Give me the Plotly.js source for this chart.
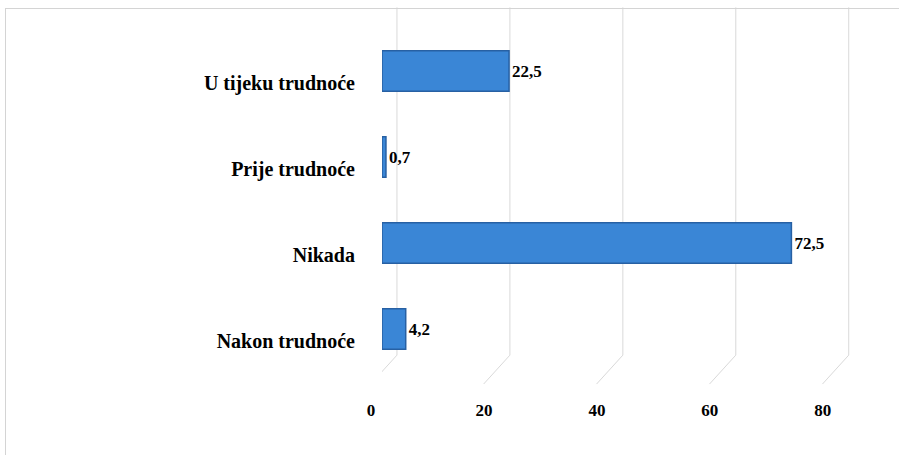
<!DOCTYPE html>
<html>
<head>
<meta charset="utf-8">
<script src="https://cdn.plot.ly/plotly-3.0.1.min.js"></script>
<style>
html,body{margin:0;padding:0;background:#fff;}
#wrap{position:relative;width:899px;height:455px;}
#chart{width:899px;height:455px;}
#frame{position:absolute;left:5px;top:8px;right:-2px;bottom:-2px;border:1px solid #d4d4d4;pointer-events:none;}
</style>
</head>
<body>
<div id="wrap"><div id="chart"></div><div id="frame"></div></div>
<script>
const categories = ["Nakon trudnoće", "Nikada", "Prije trudnoće", "U tijeku trudnoće"];
const values = [4.2, 72.5, 0.7, 22.5];
const tickValues = [0, 20, 40, 60, 80];
const tickLabels = ["0", "20", "40", "60", "80"];

const serif = "Liberation Serif";
const depth = 2.65;   // back-wall offset (axis units)
const front = -2;     // front floor edge offset (axis units)
const yBack = 0.049, yTop = 1.06, yFront = -0.035;

const shapes = [];
tickValues.forEach(v => {
  shapes.push({type:"line", xref:"x", yref:"paper", x0:v+depth, x1:v+depth, y0:yBack, y1:yTop,
               line:{color:"#d9d9d9", width:1}, layer:"below"});
  shapes.push({type:"line", xref:"x", yref:"paper", x0:v+front, x1:v+depth, y0:yFront, y1:yBack,
               line:{color:"#d9d9d9", width:1}, layer:"below"});
});
shapes.push({type:"line", xref:"x", yref:"paper", x0:front, x1:front, y0:yFront, y1:0.96,
             line:{color:"#e2e2e2", width:1}, layer:"below"});

const trace = {
  type: "bar",
  orientation: "h",
  y: categories,
  x: values,
  marker: {color: "#3a86d6", line: {color: "#2760a3", width: 1.5}},
  texttemplate: "%{x:.1f}",
  textposition: "outside",
  cliponaxis: false,
  textfont: {family: serif, size: 17, color: "#000", weight: "bold"},
  hoverinfo: "skip"
};

const layout = {
  width: 899, height: 455,
  margin: {l: 382, r: 37, t: 28, b: 83},
  paper_bgcolor: "rgba(0,0,0,0)",
  plot_bgcolor: "rgba(0,0,0,0)",
  separators: ", ",
  showlegend: false,
  bargap: 0.53,
  shapes: shapes,
  xaxis: {
    range: [0, 85], showgrid: false, zeroline: false, showline: false,
    tickvals: tickValues, ticktext: tickLabels, ticks: "",
    ticklabelshift: -11, ticklabelstandoff: 26,
    tickfont: {family: serif, size: 17, color: "#000", weight: "bold"}
  },
  yaxis: {
    showgrid: false, zeroline: false, showline: false, ticks: "",
    ticklabelshift: 12, ticklabelstandoff: 26,
    tickfont: {family: serif, size: 20, color: "#000", weight: "bold"}
  }
};

Plotly.newPlot("chart", [trace], layout, {staticPlot: true});
</script>
</body>
</html>
